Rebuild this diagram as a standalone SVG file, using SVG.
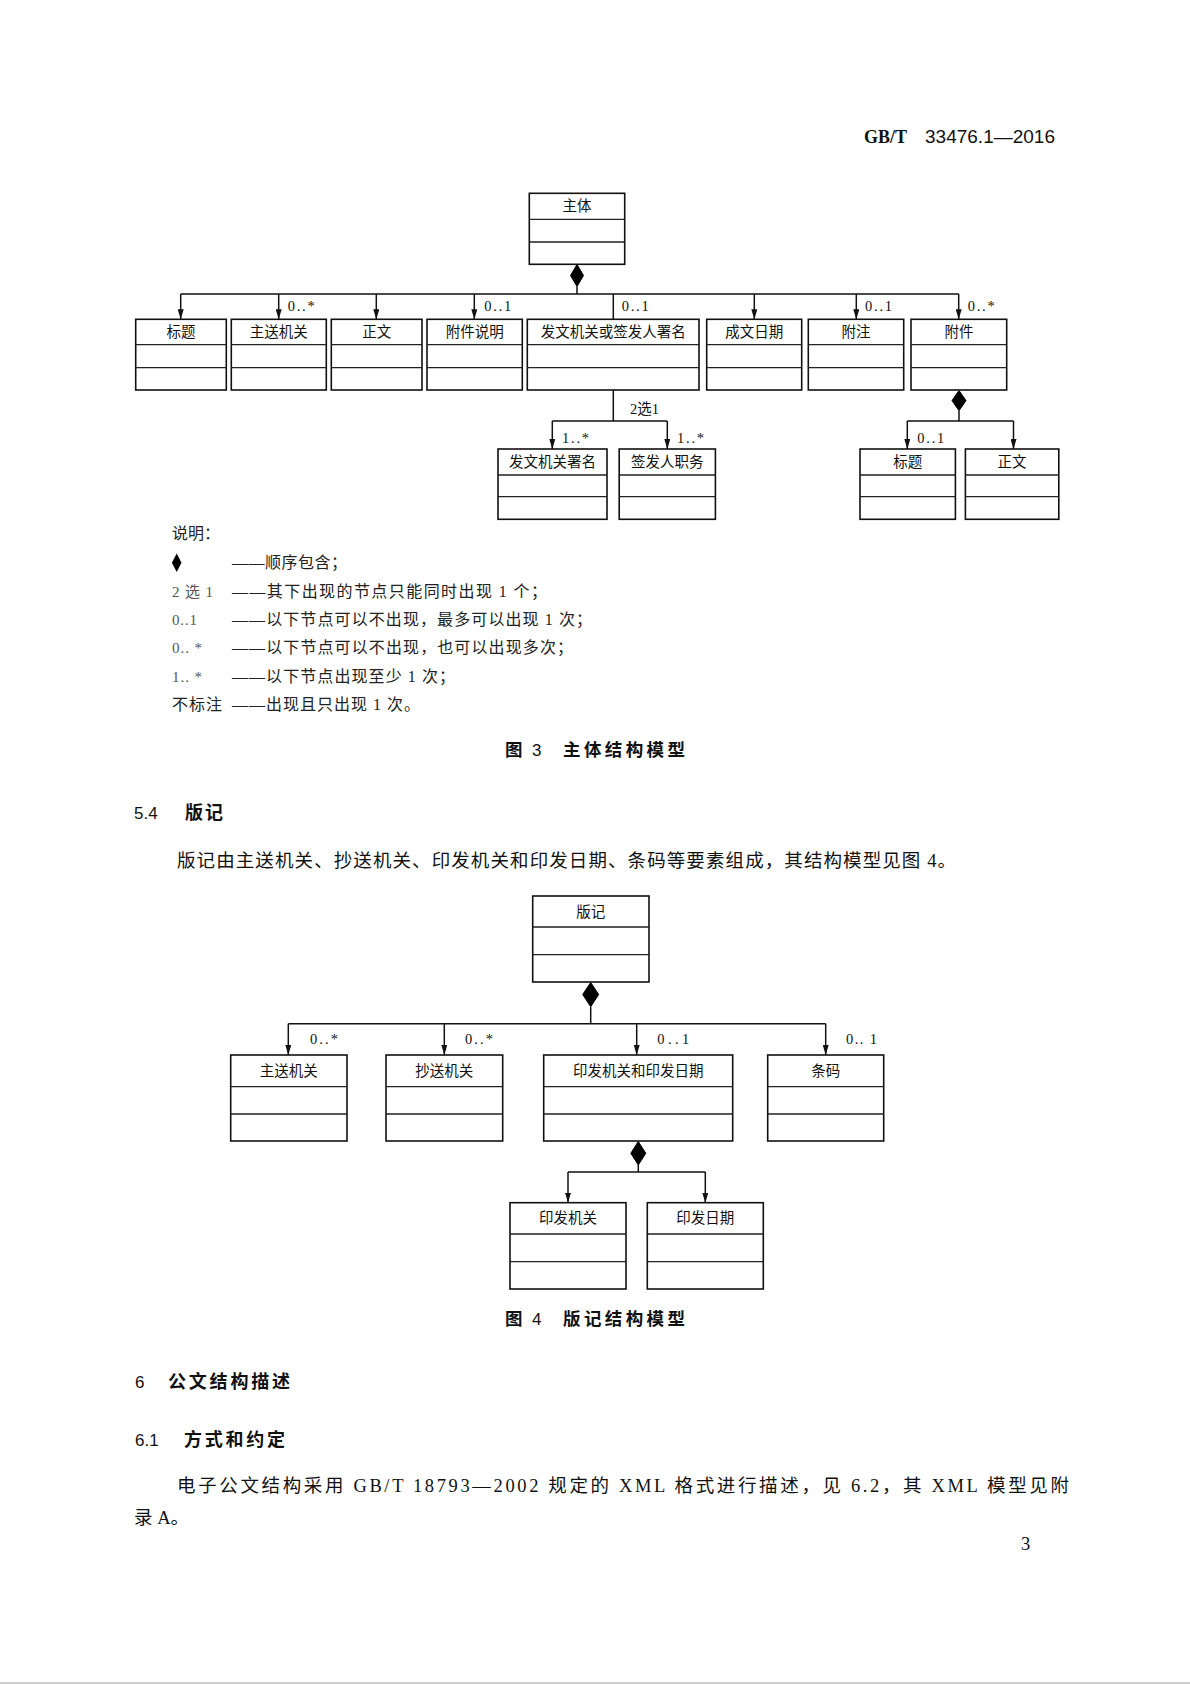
<svg xmlns="http://www.w3.org/2000/svg" width="1190" height="1684" viewBox="0 0 1190 1684">
<style>
.bx{fill:#fff;stroke:#111;stroke-width:1.6}
.dv{stroke:#222;stroke-width:1.3}
.ln{fill:none;stroke:#111;stroke-width:1.5}
.ar{fill:none;stroke:#111;stroke-width:1.5;marker-end:url(#ah)}
.dm{fill:#000;stroke:#000;stroke-width:1}
.nt{font-family:"Liberation Serif","Noto Sans CJK SC",serif;font-size:14.5px;fill:#111;text-anchor:middle}
.ml{font-family:"Liberation Serif","Noto Sans CJK SC",serif;font-size:14.5px;fill:#111}
.tx{font-family:"Liberation Serif","Noto Sans CJK SC",serif;font-size:16px;fill:#222}
.lg{font-family:"Liberation Serif","Noto Sans CJK SC",serif;font-size:15px;fill:#555}
.bd{font-family:"Liberation Serif","Noto Sans CJK SC",serif;font-size:18.5px;fill:#111}
.hd{font-family:"Noto Sans CJK SC",sans-serif;font-size:18px;font-weight:bold;fill:#111}
.hn{font-family:"Liberation Sans",sans-serif;font-size:17px;fill:#111}
.cp{font-family:"Noto Sans CJK SC",sans-serif;font-size:17.5px;font-weight:bold;fill:#111}
.cn{font-family:"Liberation Sans",sans-serif;font-size:17px;fill:#111}
</style>
<defs>
<marker id="ah" markerUnits="userSpaceOnUse" markerWidth="10" markerHeight="6" viewBox="0 0 10 6" refX="10" refY="3" orient="auto">
<path d="M0,0 L10,3 L0,6 z" fill="#111"/>
</marker>
</defs>
<rect width="1190" height="1684" fill="#fff"/>
<rect x="0" y="1682" width="1190" height="2" fill="#cfcfcf"/>

<!-- header -->
<text x="864" y="143" font-family="Liberation Serif,serif" font-size="18" font-weight="bold" fill="#111">GB/T</text>
<text x="925" y="143" font-family="Liberation Sans,sans-serif" font-size="18" fill="#111" textLength="130" lengthAdjust="spacingAndGlyphs">33476.1—2016</text>

<!-- Figure 3 connectors -->
<g id="connectors-fig3">
<polygon class="dm" points="577,264.5 583.5,275.5 577,286.5 570.5,275.5"/>
<path class="ln" d="M577,286.5 V294 M180.7,294 H958.7"/>
<path class="ar" d="M180.7,294 V319.3"/>
<path class="ar" d="M278.7,294 V319.3"/>
<path class="ar" d="M376.3,294 V319.3"/>
<path class="ar" d="M474.3,294 V319.3"/>
<path class="ln" d="M613.3,294 V319.3"/>
<path class="ar" d="M754.3,294 V319.3"/>
<path class="ar" d="M856.3,294 V319.3"/>
<path class="ar" d="M958.7,294 V319.3"/>
<path class="ln" d="M613.3,390 V421 M552.3,421 H667.3"/>
<path class="ar" d="M552.3,421 V449"/>
<path class="ar" d="M667.3,421 V449"/>
<polygon class="dm" points="959,390.5 966,400.6 959,410.7 952,400.6"/>
<path class="ln" d="M959,410.7 V421 M907.3,421 H1013.5"/>
<path class="ar" d="M907.3,421 V449"/>
<path class="ar" d="M1013.5,421 V449"/>
<text class="ml" x="287.7" y="311" textLength="27" lengthAdjust="spacing">0..*</text>
<text class="ml" x="484.3" y="311" textLength="27" lengthAdjust="spacing">0..1</text>
<text class="ml" x="621.7" y="311" textLength="27" lengthAdjust="spacing">0..1</text>
<text class="ml" x="865" y="311" textLength="27" lengthAdjust="spacing">0..1</text>
<text class="ml" x="967.7" y="311" textLength="27" lengthAdjust="spacing">0..*</text>
<text class="ml" x="630" y="414" textLength="29" lengthAdjust="spacingAndGlyphs">2选1</text>
<text class="ml" x="562" y="443" textLength="27" lengthAdjust="spacing">1..*</text>
<text class="ml" x="677" y="443" textLength="27" lengthAdjust="spacing">1..*</text>
<text class="ml" x="917.3" y="443" textLength="27" lengthAdjust="spacing">0..1</text>
</g>

<!-- Figure 3 nodes -->
<g id="n-zhuti"><rect class="bx" x="529.3" y="193.3" width="95.4" height="71"/><path class="dv" d="M529.3,219.3 H624.7 M529.3,242 H624.7"/><text class="nt" x="577" y="211">主体</text></g>
<g id="n-biaoti"><rect class="bx" x="135.7" y="319.3" width="90.6" height="70.7"/><path class="dv" d="M135.7,344.7 H226.3 M135.7,367.7 H226.3"/><text class="nt" x="181" y="337">标题</text></g>
<g id="n-zhusong"><rect class="bx" x="231.3" y="319.3" width="95" height="70.7"/><path class="dv" d="M231.3,344.7 H326.3 M231.3,367.7 H326.3"/><text class="nt" x="278.8" y="337">主送机关</text></g>
<g id="n-zhengwen"><rect class="bx" x="331.3" y="319.3" width="90.7" height="70.7"/><path class="dv" d="M331.3,344.7 H422 M331.3,367.7 H422"/><text class="nt" x="376.7" y="337">正文</text></g>
<g id="n-fujianshuoming"><rect class="bx" x="427" y="319.3" width="95.3" height="70.7"/><path class="dv" d="M427,344.7 H522.3 M427,367.7 H522.3"/><text class="nt" x="474.7" y="337">附件说明</text></g>
<g id="n-fawenjiguan-or"><rect class="bx" x="527.3" y="319.3" width="171.7" height="70.7"/><path class="dv" d="M527.3,344.7 H699 M527.3,367.7 H699"/><text class="nt" x="613.2" y="337">发文机关或签发人署名</text></g>
<g id="n-chengwenriqi"><rect class="bx" x="706.7" y="319.3" width="95" height="70.7"/><path class="dv" d="M706.7,344.7 H801.7 M706.7,367.7 H801.7"/><text class="nt" x="754.2" y="337">成文日期</text></g>
<g id="n-fuzhu"><rect class="bx" x="808.3" y="319.3" width="95.4" height="70.7"/><path class="dv" d="M808.3,344.7 H903.7 M808.3,367.7 H903.7"/><text class="nt" x="856" y="337">附注</text></g>
<g id="n-fujian"><rect class="bx" x="911" y="319.3" width="95.7" height="70.7"/><path class="dv" d="M911,344.7 H1006.7 M911,367.7 H1006.7"/><text class="nt" x="958.9" y="337">附件</text></g>
<g id="n-fawenjiguanshuming"><rect class="bx" x="498" y="449" width="109" height="70.3"/><path class="dv" d="M498,475 H607 M498,496.7 H607"/><text class="nt" x="552.5" y="467">发文机关署名</text></g>
<g id="n-qianfarenzhiwu"><rect class="bx" x="619.2" y="449" width="96.2" height="70.3"/><path class="dv" d="M619.2,475 H715.4 M619.2,496.7 H715.4"/><text class="nt" x="667.3" y="467">签发人职务</text></g>
<g id="n-fujian-biaoti"><rect class="bx" x="860" y="449" width="95.4" height="70.3"/><path class="dv" d="M860,475 H955.4 M860,496.7 H955.4"/><text class="nt" x="907.7" y="467">标题</text></g>
<g id="n-fujian-zhengwen"><rect class="bx" x="965.4" y="449" width="93.4" height="70.3"/><path class="dv" d="M965.4,475 H1058.8 M965.4,496.7 H1058.8"/><text class="nt" x="1012.1" y="467">正文</text></g>

<!-- legend -->
<text class="tx" x="172" y="538.5">说明：</text>
<polygon points="176.7,553.5 181.5,562.7 176.7,572 171.9,562.7" fill="#000"/>
<text class="tx" x="232" y="568" textLength="115" lengthAdjust="spacing">——顺序包含；</text>
<text class="lg" x="172" y="597" textLength="41" lengthAdjust="spacing">2 选 1</text>
<text class="tx" x="232" y="597" textLength="315" lengthAdjust="spacing">——其下出现的节点只能同时出现 1 个；</text>
<text class="lg" x="172" y="625" textLength="25" lengthAdjust="spacing">0..1</text>
<text class="tx" x="232" y="625" textLength="360" lengthAdjust="spacing">——以下节点可以不出现，最多可以出现 1 次；</text>
<text class="lg" x="172" y="653" textLength="30" lengthAdjust="spacing">0.. *</text>
<text class="tx" x="232" y="653" textLength="341" lengthAdjust="spacing">——以下节点可以不出现，也可以出现多次；</text>
<text class="lg" x="172" y="681.5" textLength="30" lengthAdjust="spacing">1.. *</text>
<text class="tx" x="232" y="681.5" textLength="223" lengthAdjust="spacing">——以下节点出现至少 1 次；</text>
<text class="tx" x="172" y="710" textLength="50" lengthAdjust="spacing">不标注</text>
<text class="tx" x="232" y="710" textLength="188" lengthAdjust="spacing">——出现且只出现 1 次。</text>

<text class="cp" x="505" y="756">图</text>
<text class="cn" x="532" y="756">3</text>
<text class="cp" x="563" y="756" textLength="122" lengthAdjust="spacing">主体结构模型</text>

<!-- 5.4 -->
<text class="hn" x="134" y="819">5.4</text>
<text class="hd" x="185" y="819" textLength="38" lengthAdjust="spacing">版记</text>
<text class="bd" x="177" y="867" textLength="779" lengthAdjust="spacing">版记由主送机关、抄送机关、印发机关和印发日期、条码等要素组成，其结构模型见图 4。</text>

<!-- Figure 4 connectors -->
<g id="connectors-fig4">
<polygon class="dm" points="590.7,982.5 598.7,994.5 590.7,1006.7 582.7,994.5"/>
<path class="ln" d="M590.7,1006.7 V1023.7 M288.3,1023.7 H825.7"/>
<path class="ar" d="M288.3,1023.7 V1055"/>
<path class="ar" d="M444.3,1023.7 V1055"/>
<path class="ar" d="M636.7,1023.7 V1055"/>
<path class="ar" d="M825.7,1023.7 V1055"/>
<polygon class="dm" points="638.3,1141.5 645.8,1153.3 638.3,1165 630.8,1153.3"/>
<path class="ln" d="M638.3,1165 V1172 M568,1172 H705.3"/>
<path class="ar" d="M568,1172 V1202.7"/>
<path class="ar" d="M705.3,1172 V1202.7"/>
<text class="ml" x="310" y="1044" textLength="28" lengthAdjust="spacing">0..*</text>
<text class="ml" x="465" y="1044" textLength="28" lengthAdjust="spacing">0..*</text>
<text class="ml" x="657.3" y="1044" textLength="32" lengthAdjust="spacing">0..1</text>
<text class="ml" x="846" y="1044" textLength="31" lengthAdjust="spacing">0.. 1</text>
</g>

<!-- Figure 4 nodes -->
<g id="n-banji"><rect class="bx" x="532.7" y="896" width="116.3" height="86"/><path class="dv" d="M532.7,927 H649 M532.7,954.7 H649"/><text class="nt" x="590.8" y="916.5">版记</text></g>
<g id="n4-zhusong"><rect class="bx" x="230.7" y="1055" width="116.3" height="86"/><path class="dv" d="M230.7,1086.7 H347 M230.7,1114 H347"/><text class="nt" x="288.8" y="1076">主送机关</text></g>
<g id="n4-chaosong"><rect class="bx" x="386" y="1055" width="116.7" height="86"/><path class="dv" d="M386,1086.7 H502.7 M386,1114 H502.7"/><text class="nt" x="444.3" y="1076">抄送机关</text></g>
<g id="n4-yinfa"><rect class="bx" x="543.7" y="1055" width="189" height="86"/><path class="dv" d="M543.7,1086.7 H732.7 M543.7,1114 H732.7"/><text class="nt" x="638.2" y="1076">印发机关和印发日期</text></g>
<g id="n4-tiaoma"><rect class="bx" x="767.7" y="1055" width="116" height="86"/><path class="dv" d="M767.7,1086.7 H883.7 M767.7,1114 H883.7"/><text class="nt" x="825.7" y="1076">条码</text></g>
<g id="n4-yinfajiguan"><rect class="bx" x="510" y="1202.7" width="116" height="86.3"/><path class="dv" d="M510,1234 H626 M510,1261.7 H626"/><text class="nt" x="568" y="1223">印发机关</text></g>
<g id="n4-yinfariqi"><rect class="bx" x="647.3" y="1202.7" width="116" height="86.3"/><path class="dv" d="M647.3,1234 H763.3 M647.3,1261.7 H763.3"/><text class="nt" x="705.3" y="1223">印发日期</text></g>

<text class="cp" x="505" y="1324.5">图</text>
<text class="cn" x="532" y="1324.5">4</text>
<text class="cp" x="563" y="1324.5" textLength="122" lengthAdjust="spacing">版记结构模型</text>

<!-- section 6 -->
<text class="hn" x="135" y="1387.5">6</text>
<text class="hd" x="168" y="1387.5" textLength="122" lengthAdjust="spacing">公文结构描述</text>
<text class="hn" x="135" y="1446">6.1</text>
<text class="hd" x="184" y="1446" textLength="101" lengthAdjust="spacing">方式和约定</text>
<text class="bd" x="177" y="1492" textLength="892" lengthAdjust="spacing">电子公文结构采用 GB/T 18793—2002 规定的 XML 格式进行描述，见 6.2，其 XML 模型见附</text>
<text class="bd" x="134" y="1524">录 A。</text>
<text class="bd" x="1021" y="1550" font-size="14" fill="#555">3</text>
</svg>
